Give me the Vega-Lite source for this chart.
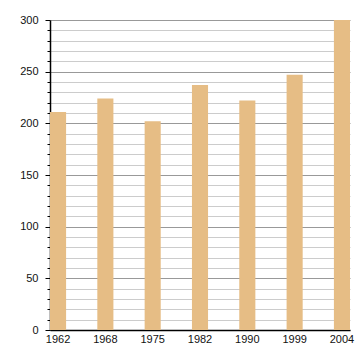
{
  "$schema": "https://vega.github.io/schema/vega-lite/v6.json",
  "width": 300,
  "height": 310,
  "autosize": {"type": "none"},
  "padding": {"left": 50, "top": 20, "right": 10, "bottom": 30},
  "background": "white",
  "data": {"values": [
    {"year": "1962", "value": 211},
    {"year": "1968", "value": 224},
    {"year": "1975", "value": 202},
    {"year": "1982", "value": 237},
    {"year": "1990", "value": 222},
    {"year": "1999", "value": 247},
    {"year": "2004", "value": 300}
  ]},
  "config": {
    "view": {"stroke": null},
    "axis": {"labelFont": "Liberation Sans", "labelFontSize": 11, "labelColor": "#111"}
  },
  "mark": {"type": "bar", "color": "#E6BD85"},
  "encoding": {
    "x": {
      "field": "year", "type": "ordinal",
      "scale": {"paddingInner": 0.66, "paddingOuter": 0},
      "axis": {"title": null, "labelAngle": 0, "ticks": false, "domainColor": "#000", "domainWidth": 1.5, "labelPadding": 3, "grid": false}
    },
    "y": {
      "field": "value", "type": "quantitative",
      "scale": {"domain": [0, 300], "nice": false},
      "axis": {
        "title": null,
        "values": [0,10,20,30,40,50,60,70,80,90,100,110,120,130,140,150,160,170,180,190,200,210,220,230,240,250,260,270,280,290,300],
        "labelExpr": "datum.value % 50 === 0 ? datum.label : ''",
        "grid": true,
        "gridColor": {"condition": {"test": "datum.value % 50 === 0", "value": "#999999"}, "value": "#cccccc"},
        "gridWidth": 1,
        "tickColor": "#000",
        "tickSize": {"condition": {"test": "datum.value % 50 === 0", "value": 5}, "value": 3},
        "domainColor": "#000",
        "domainWidth": 1.5,
        "labelPadding": 7
      }
    }
  }
}
